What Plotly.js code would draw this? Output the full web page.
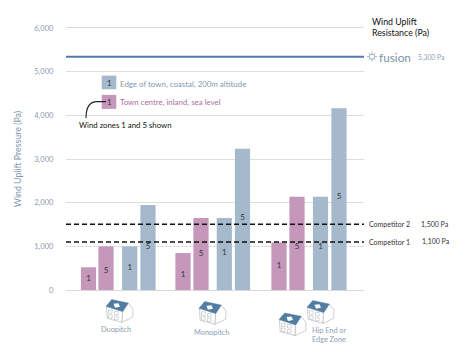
<!DOCTYPE html>
<html><head><meta charset="utf-8">
<script src="https://cdn.plot.ly/plotly-3.0.1.min.js"></script>
<style>html,body{margin:0;padding:0;background:#fff}</style></head>
<body><div id="chart" style="width:474px;height:352px"></div>
<script>
const categories = ["Duopitch", "Monopitch", "Hip End or<br>Edge Zone"];
const townZone1 = [520, 846, 1090];
const townZone5 = [1000, 1650, 2135];
const edgeZone1 = [1000, 1650, 2135];
const edgeZone5 = [1945, 3233, 4165];
const townZone1Label = [260, 350, 556];
const townZone5Label = [440, 830, 990];
const edgeZone1Label = [510, 840, 990];
const edgeZone5Label = [975, 1650, 2140];
const fusionLevel = 5340;
const competitor1 = 1100;
const competitor2 = 1505;
const yTicks = [0, 1000, 2000, 3000, 4000, 5000, 6000];

// layout geometry (pixels in the 474x352 page)
const L = 66, R = 364, T = 28.4, B = 290.4;
const W = R - L, H = B - T;
const px = x => (x - L) / W, py = y => (B - y) / H;
const slot = {town1: [22.5, 117, 213], town5: [40, 135, 231], edge1: [63.7, 158.3, 254.5], edge5: [82, 176.5, 273]};
const barW = 15.2;

const PINK = "#c497bb", BLUE = "#a4b9cb", LINE = "#4f7ba6", TICK = "#8e9eb0", ROOF = "#527da3", GREY = "#a9aeb3";
const font = "Lato";

function bar(name, xs, ys, color) {
  return {type: "bar", name, x: xs, y: ys, width: barW, marker: {color, line: {width: 0}}, hoverinfo: "skip"};
}
function hline(name, y, color, width, dash, x1) {
  return {type: "scatter", mode: "lines", name, x: [0, x1], y: [y, y], cliponaxis: false,
          line: {color, width, dash}, hoverinfo: "skip"};
}
function nums(xs, ys, t) {
  return {type: "scatter", mode: "text", x: xs, y: ys, text: xs.map(() => t), cliponaxis: false,
          textposition: "middle center", textfont: {family: font, size: 8, color: "#333"}, hoverinfo: "skip"};
}
const traces = [
  bar("Town 1", slot.town1, townZone1, PINK),
  bar("Town 5", slot.town5, townZone5, PINK),
  bar("Edge 1", slot.edge1, edgeZone1, BLUE),
  bar("Edge 5", slot.edge5, edgeZone5, BLUE),
  hline("fusion", fusionLevel, LINE, 2, "solid", 299.5),
  hline("Competitor 2", competitor2, "#111", 1.6, "5px 3px", 298),
  hline("Competitor 1", competitor1, "#111", 1.6, "5px 3px", 298),
  nums(slot.town1, townZone1Label, "1"),
  nums(slot.town5, townZone5Label, "5"),
  nums(slot.edge1, edgeZone1Label, "1"),
  nums(slot.edge5, edgeZone5Label, "5")
];

function path(pts, opts, closed) {
  const d = pts.map((p, i) => (i ? "L" : "M") + px(p[0]).toFixed(5) + "," + py(p[1]).toFixed(5)).join(" ") + (closed === false ? "" : " Z");
  return Object.assign({type: "path", xref: "paper", yref: "paper", path: d, layer: "above"}, opts);
}
function rect(x0, y0, x1, y1, opts) {
  return path([[x0, y0], [x1, y0], [x1, y1], [x0, y1]], opts);
}
function house(ox, oy) {
  const o = pts => pts.map(p => [ox + p[0], oy + p[1]]);
  const wall = {fillcolor: "#fff", line: {color: GREY, width: 0.6}};
  const out = [
    path(o([[0.5, 0], [1.2, 12], [16, 16], [16.7, 5.3]]), wall),
    path(o([[16.7, 5.3], [16, 16], [26.7, 11], [27, 3], [22.3, -3.3]]), wall),
    path(o([[0, 0], [5.7, -6.7], [22.3, -3.3], [16.7, 5.3]]), {fillcolor: ROOF, line: {color: ROOF, width: 0.4}}),
    path(o([[7.5, -2.5], [12.5, -3], [14, 0.5], [9, 1.5]]), {fillcolor: "#fff", line: {width: 0}})
  ];
  [[2.5, 3.5], [8.5, 5], [2.5, 8.5], [8.5, 10]].forEach(w => {
    out.push(rect(ox + w[0], oy + w[1], ox + w[0] + 3.6, oy + w[1] + 3.4, {fillcolor: "#fff", line: {color: GREY, width: 0.5}}));
  });
  return out;
}
const sunRays = [];
for (let i = 0; i < 8; i++) {
  const a = i * Math.PI / 4;
  sunRays.push(path([[372 + 3.2 * Math.cos(a), 57 + 3.2 * Math.sin(a)], [372 + 4.8 * Math.cos(a), 57 + 4.8 * Math.sin(a)]],
    {line: {color: "#7f97ab", width: 0.9}}, false));
}
const shapes = [
  rect(101.7, 76, 116.3, 89.7, {fillcolor: BLUE, line: {width: 0}}),
  rect(101.7, 95.3, 116.3, 109.3, {fillcolor: PINK, line: {width: 0}}),
  {type: "path", xref: "paper", yref: "paper", layer: "above",
   path: `M${px(106)},${py(102)} L${px(97)},${py(102)} Q${px(86)},${py(102)} ${px(86)},${py(118.5)}`,
   line: {color: "#222", width: 1.1}},
  {type: "circle", xref: "paper", yref: "paper", x0: px(369.4), x1: px(374.6), y0: py(59.6), y1: py(54.4),
   line: {color: "#7f97ab", width: 0.8}, layer: "above"},
  ...sunRays,
  ...house(106, 306.7),
  ...house(199, 308.7),
  ...house(279, 320),
  ...house(307, 307.7)
];

function note(x, y, text, size, color, anchor, extra) {
  return Object.assign({xref: "paper", yref: "paper", x: px(x), y: py(y), text, showarrow: false,
    xanchor: anchor || "left", yanchor: "middle", align: anchor || "left", borderpad: 0,
    font: {family: font, size, color}}, extra || {});
}
const annotations = [
  note(109, 83, "1", 8, "#333", "center"),
  note(109, 102, "1", 8, "#333", "center"),
  note(118.7, 84, "Edge of town, coastal, 200m altitude", 7.9, "#7f98ad"),
  note(118.7, 102, "Town centre, inland, sea level", 7.9, "#ab6ea0"),
  note(77.5, 125.5, "Wind zones 1 and 5 shown", 7.8, "#111"),
  note(371, 22, "Wind Uplift", 8.8, "#111"),
  note(371, 33, "Resistance (Pa)", 8.8, "#111"),
  note(378, 57.5, "fusion", 11.8, "#7a93a8"),
  note(417, 58, "5,300 Pa", 6.8, "#8e9eb0"),
  note(368, 224.5, "Competitor 2", 7, "#333"),
  note(420, 224.5, "1,500 Pa", 7, "#333"),
  note(368, 242, "Competitor 1", 7, "#333"),
  note(421, 242, "1,100 Pa", 7, "#333"),
  note(116, 330, categories[0], 7.4, "#8ba0b3", "center"),
  note(211, 332.5, categories[1], 7.4, "#8ba0b3", "center"),
  note(310.7, 335.5, categories[2], 7.3, "#8ba0b3", "left")
];

const layout = {
  width: 474, height: 352, showlegend: false, barmode: "overlay",
  paper_bgcolor: "#fff", plot_bgcolor: "#fff",
  margin: {l: L, r: 474 - R, t: T, b: 352 - B, pad: 0},
  font: {family: font},
  xaxis: {range: [0, W], showgrid: false, zeroline: false, showticklabels: false, ticks: "",
          showline: true, mirror: true, linecolor: "#d9d9d9", linewidth: 1, fixedrange: true},
  yaxis: {range: [0, 6000], tickvals: yTicks, tickformat: ",d", showgrid: true, gridcolor: "#dddddd", gridwidth: 1,
          zeroline: false, ticks: "outside", ticklen: 10, tickcolor: "rgba(0,0,0,0)",
          tickfont: {family: font, size: 7.6, color: TICK},
          title: {text: "Wind Uplift Pressure (Pa)", font: {family: font, size: 8.8, color: "#7f98ad"}, standoff: 11},
          fixedrange: true},
  shapes, annotations
};
Plotly.newPlot("chart", traces, layout, {staticPlot: true, displayModeBar: false});
</script></body></html>
